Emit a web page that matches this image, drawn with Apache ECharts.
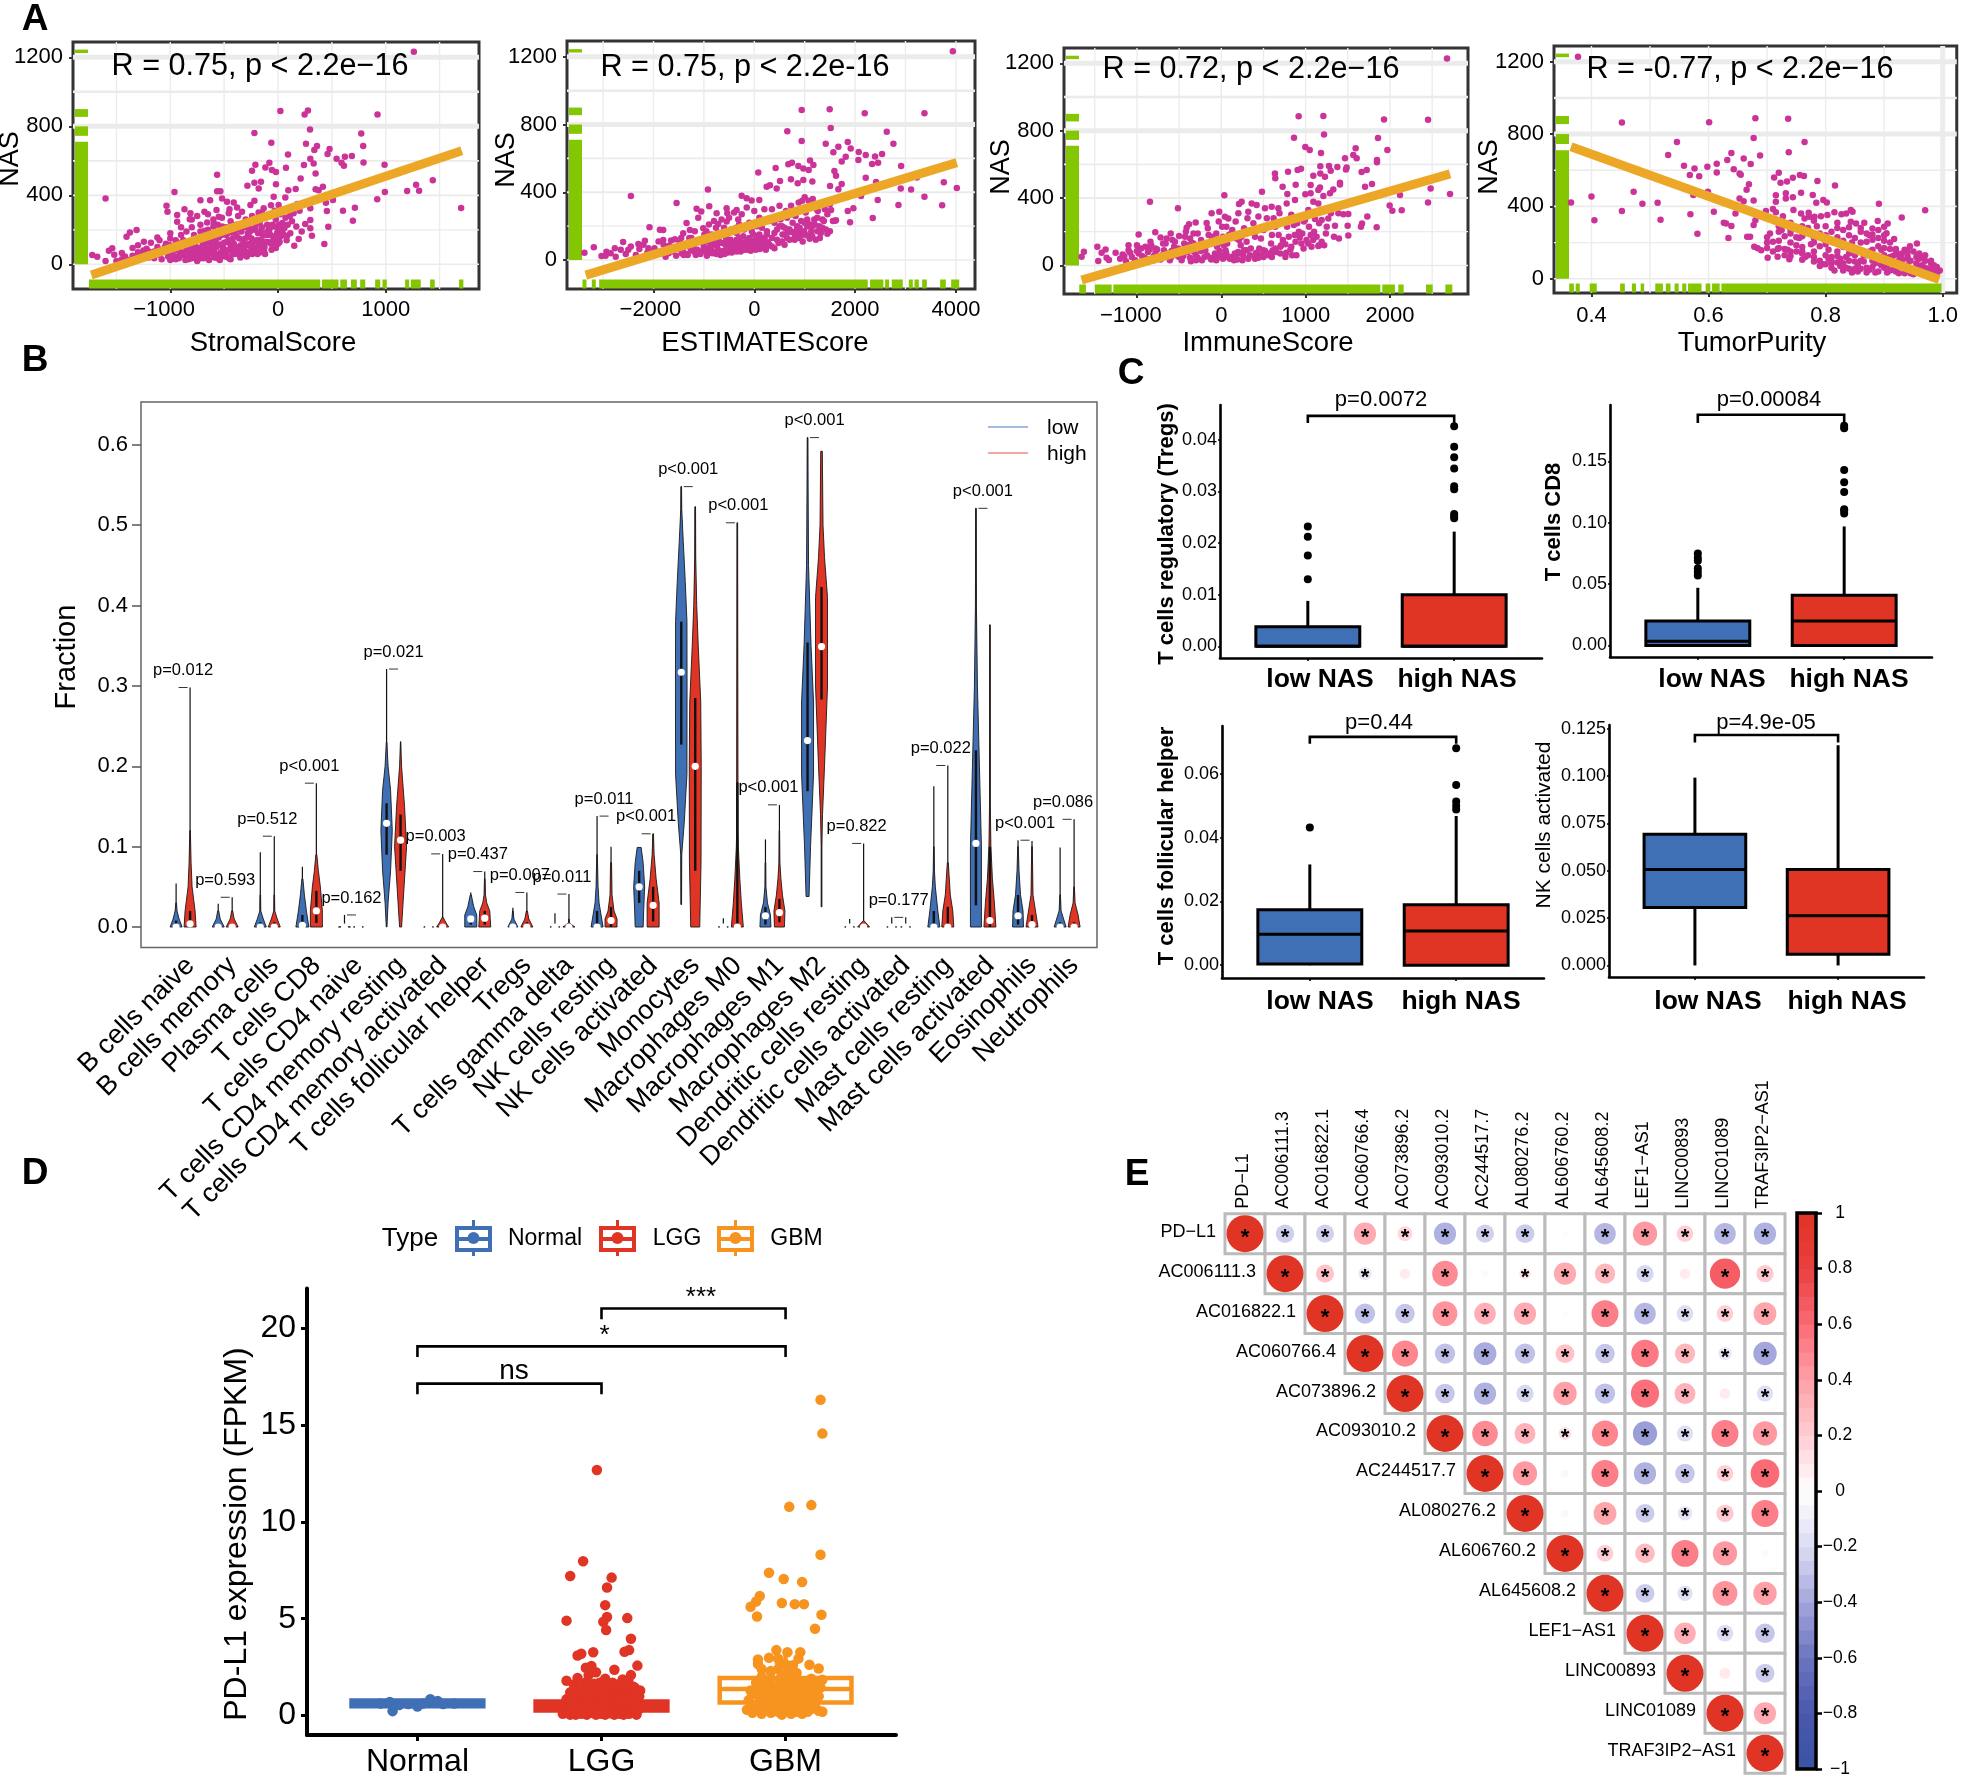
<!DOCTYPE html>
<html><head><meta charset="utf-8">
<style>html,body{margin:0;padding:0;background:#fff}#c{width:1961px;height:1778px}</style>
<script src="https://cdn.jsdelivr.net/npm/echarts@6/dist/echarts.min.js"></script>
</head><body><div id="c"></div>
<script>
// ---------- Panel A data: [score, NAS] pairs ----------
const nasRugSpans=[[0,710],[745,800],[855,900],[1225,1245]];
const stromalPts=[1261,1233,22,889,247,869,278,892,924,869,297,782,-219,761,773,759,-62,705,260,699,362,686,337,663,479,668,460,639,791,686,93,637,544,612,621,624,686,628,590,589,612,572,794,591,989,578,300,612,331,585,241,576,74,560,-80,589,-117,562,-210,578,-241,543,-56,547,-19,535,349,527,210,498,-565,520,-158,479,-219,473,-284,456,-179,440,-19,465,417,450,349,435,377,430,96,430,164,437,1437,487,1282,462,1310,427,1199,425,992,419,921,377,1700,326,714,328,603,311,695,253,510,373,445,357,454,309,467,218,430,118,-1601,381,-961,419,-720,371,-630,371,-565,423,-535,423,-1035,340,-1026,305,-868,319,-813,296,-936,286,-936,247,-819,261,-683,305,-571,315,-519,382,-473,363,-411,359,-256,344,-219,369,-40,392,68,388,-65,342,6,344,-133,325,-334,305,-457,296,-550,276,-658,242,-596,238,300,325,145,296,300,257,253,234,300,209,315,166,192,147,151,108,114,180,83,164,-1313,199,-1375,184,-1406,160,-1245,131,-1539,93,-1570,79,-1724,54,-1678,44,-1601,19,
-1500,20,-1450,30,-1420,45,-1380,25,-1350,50,-1320,35,-1300,70,-1280,30,-1250,55,-1220,90,-1200,40,-1180,60,-1150,35,-1120,100,-1100,55,-1080,30,-1060,75,-1040,120,-1020,45,-1000,25,-980,60,-960,95,-940,130,-920,35,-900,70,-880,140,-860,25,-840,50,-820,100,-800,35,-780,170,-770,75,-750,20,-730,55,-720,190,-700,110,-690,35,-670,80,-650,200,-640,25,-630,135,-610,60,-600,220,-590,40,-570,100,-560,160,-540,25,-530,70,-520,220,-500,125,-490,45,-470,180,-450,85,-440,30,-420,150,-400,60,-390,230,-370,100,-350,40,-340,190,-320,130,-300,75,-290,45,-270,160,-250,100,-240,60,-220,200,-200,140,-190,60,-170,240,-150,100,-140,165,-120,60,-100,230,-90,130,-70,170,-60,85,-40,220,-30,140,-10,180,0,120,10,230,20,160,40,190,60,210,80,140,-880,55,-850,85,-810,65,-790,130,-760,40,-710,85,-680,150,-660,55,-620,100,-580,130,-550,45,-510,95,-480,65,-460,140,-430,110,-380,75,-360,150,-330,55,-310,105,-280,180,-260,70,-230,130,-180,110,-160,190,-130,80,-110,130,-80,200,-50,130,-20,95,
-1000,70,-960,45,-930,80,-900,110,-870,60,-850,115,-830,30,-800,85,-770,110,-745,60,-720,35,-700,70,-680,105,-655,40,-635,75,-615,120,-600,150,-585,65,-560,35,-540,115,-525,170,-510,50,-495,85,-475,130,-455,35,-440,110,-420,60,-405,85,-385,165,-365,60,-345,110,-325,80,-305,150,-285,60,-265,120,-245,150,-225,70,-205,95,-185,180,-165,70,-145,130,-125,100,-105,170,-85,200,-65,120,-45,160,-25,100,-5,150,15,130,35,210,55,170,-650,130,-600,95,-550,155,-480,170,-430,185,-360,205,-300,215,-260,190,-210,215,-1100,85,-1150,75,-1200,75,-1050,100,-1250,80,-1300,50,-1000,110,-950,30,-910,55,-840,75,-780,45,-740,95,-690,125,-645,90,-590,115,-530,50,-470,45,-410,120,-355,85,-295,110,-235,100,-175,140,
-900,170,-850,190,-800,215,-760,150,-720,230,-680,195,-640,175,-600,260,-560,230,-520,270,-480,215,-440,250,-400,195,-370,280,-330,230,-300,260,-270,215,-240,280,-200,250,-180,300,-150,215,-120,270,-100,190,-70,280,-50,230,-20,260,0,200,20,290,40,240,70,270,90,230,110,280,130,250,170,220,200,310,220,190,-950,140,-1000,150,-1100,140,-1180,125,-1300,110,-1350,95,-1450,65,-1520,55,-1120,155,-1000,180,-900,215,-800,260,-750,280,-650,290,-450,320,-380,330,-150,300,-30,310,100,320,180,350];
const stromalTrend=[[-1733,-62],[1706,659]];
const stromalRug=[[-1755,392],[408,562],[578,640],[677,732],[763,810],[902,949],[970,1010],[1180,1217],[1233,1325],[1412,1455],[1681,1721]];

const estimatePts=[3939,1233,940,886,1496,890,2191,867,3376,867,655,760,1516,780,2628,758,940,703,1417,686,2760,686,1854,697,1668,668,1913,658,1569,636,2072,638,2211,620,2535,626,2396,611,1814,609,2065,591,1734,581,2337,567,2456,575,2913,555,1106,587,675,565,748,575,874,555,973,540,1079,532,1172,561,424,544,79,516,1589,526,1622,498,728,477,973,473,861,453,1152,463,510,467,245,433,311,441,444,422,2211,485,2416,461,1503,437,1734,449,1668,418,3760,459,4018,425,2906,422,3111,416,3224,487,3376,374,2449,355,2860,325,3727,323,2350,248,1966,305,1854,290,1900,223,1602,232,1523,296,2118,378,-920,416,-2449,378,-1542,337,-1145,303,-894,317,-1053,286,-1112,250,-1344,219,-2079,193,-1873,179,-1807,177,-251,380,-152,364,99,355,-53,351,-351,296,-549,305,-748,276,-536,276,-318,240,-549,227,-715,213,-1013,187,-1278,177,-1410,158,-1575,122,-1807,118,-2171,114,-2602,106,-2767,69,-2933,49,-3032,24,-3184,75,-3370,43,
300,90,350,130,400,70,450,180,480,100,520,240,560,150,600,90,630,290,660,180,700,120,730,320,760,220,790,160,820,260,850,130,880,340,900,190,930,230,960,110,990,170,1020,280,1050,145,1080,350,1110,210,1130,170,1160,320,1190,240,1220,120,1260,290,1290,200,1320,160,1350,240,1380,230,1420,180,1450,155,1500,170,1560,230,1620,235,950,350,1000,370,1160,360,1240,300,1200,210,
-2950,25,-2850,40,-2750,20,-2650,60,-2550,35,-2450,80,-2350,30,-2280,65,-2200,90,-2120,45,-2050,25,-1980,70,-1900,110,-1830,40,-1760,20,-1690,85,-1620,50,-1550,25,-1480,100,-1420,60,-1350,35,-1290,130,-1220,75,-1160,30,-1100,110,-1050,50,-990,150,-940,25,-880,80,-830,40,-770,130,-720,60,-670,30,-610,165,-570,90,-520,45,-470,120,-420,60,-360,190,-320,90,-270,50,-220,140,-170,70,-120,100,-70,55,-20,150,30,60,80,110,130,70,180,130,230,60,270,105,-600,55,-500,90,-400,70,-300,130,-200,60,-100,130,0,85,100,150,200,95,-1000,75,-900,45,-800,95,-700,110,-1200,50,-1400,30,-1700,40,-2000,45,
-1500,65,-1440,40,-1380,85,-1320,30,-1260,60,-1190,95,-1130,60,-1070,35,-1010,95,-960,55,-910,110,-850,60,-790,45,-740,85,-690,55,-640,100,-590,35,-545,70,-495,115,-445,45,-395,95,-345,50,-295,80,-245,105,-195,85,-145,60,-95,95,-45,80,5,115,55,85,105,65,155,100,205,130,255,85,-750,35,-650,45,-550,120,-450,75,-350,120,-250,70,-150,115,-50,110,50,140,150,120,250,150,350,80,450,120,550,110,650,130,750,165,850,180,950,150,1050,200,1150,140,1250,170,1350,190,1100,125,1000,220,900,130,800,120,700,165,600,190,500,200,400,220,
-1000,130,-950,170,-900,210,-850,150,-800,230,-760,190,-700,160,-650,240,-600,190,-560,130,-500,250,-450,180,-400,280,-350,160,-300,210,-250,270,-200,180,-150,310,-100,220,-50,170,0,290,50,200,100,250,150,190,200,300,250,170,300,230,350,300,400,160,450,250,500,320,550,200,600,150,650,250,700,180,750,270,800,130,850,200,900,160,1000,150,1050,240,1150,200,1250,250,1300,130,1400,300,1450,270,1500,330,-1300,100,-1250,130,-1180,170,-1450,130,-1650,115,-1800,90,-2100,70,-2300,95,-2500,60];
const estimateTrend=[[-3343,-89],[4018,575]];
const estimateRug=[[-3409,-3330],[-3224,-3145],[-3078,2250],[2297,2562],[2595,2674],[2727,2946],[3065,3145],[3178,3264],[3330,3423],[3687,3800],[3906,4065]];

const immunePts=[2676,1228,917,885,1210,887,1929,867,2451,865,1218,778,862,758,1858,756,996,703,1048,685,1969,685,1182,667,1593,695,1565,655,1467,636,1605,636,1846,626,1846,612,1174,588,1277,590,1376,584,1486,582,1478,570,1297,562,1174,546,1229,527,1091,533,1724,566,1664,554,636,546,640,517,791,556,905,566,945,574,727,467,882,479,1059,477,1407,491,1407,481,1704,467,1787,483,1170,463,1150,447,1328,451,1289,428,1210,412,783,424,996,422,1059,428,482,438,36,416,2119,418,2482,457,2712,424,2451,374,1996,356,2028,325,2139,327,1731,291,1668,249,1656,230,1842,226,1498,236,1348,236,1506,305,1447,303,1388,309,1506,178,1395,160,1336,170,-846,378,-514,339,-304,255,-383,244,-411,224,-174,251,-783,196,-980,184,-648,160,-115,309,-24,319,43,289,83,279,202,309,241,378,210,364,360,368,419,358,320,319,518,339,597,348,676,339,775,368,874,388,1091,378,1150,368,1032,329,992,269,1111,275,1190,269,1269,279,-1656,51,-1629,81,-1470,111,-1459,26,-1419,75,-1372,95,-1360,46,-1332,32,-1253,75,
-1200,40,-1170,65,-1130,25,-1100,90,-1060,50,-1020,30,-980,70,-950,100,-910,45,-870,80,-830,120,-800,55,-760,95,-720,35,-690,130,-650,70,-610,30,-580,150,-540,60,-510,100,-470,30,-430,170,-400,80,-360,25,-330,190,-300,60,-260,120,-230,30,-190,90,-160,220,-130,45,-90,150,-60,30,-20,85,10,230,40,50,70,130,100,40,130,210,160,70,190,35,230,120,260,60,290,190,320,40,350,100,380,250,410,70,440,45,470,160,500,90,530,230,560,60,590,130,620,280,650,80,680,180,710,120,740,260,770,75,800,170,830,110,860,240,890,60,920,200,950,130,980,260,1010,150,1040,230,1070,110,1100,200,1130,170,1160,250,1190,140,1220,120,1240,190,-800,30,-700,60,-600,45,-500,50,-400,120,-300,30,-200,50,-100,40,-50,110,0,60,50,90,150,30,200,80,250,30,300,90,400,40,500,50,600,50,700,70,-350,135,-450,95,-550,140,
-1150,55,-1080,75,-1000,85,-940,55,-890,40,-850,95,-780,75,-740,50,-680,90,-630,55,-590,85,-520,75,-450,55,-420,95,-370,45,-320,80,-280,45,-240,85,-170,60,-120,35,-75,70,-35,50,20,40,60,70,120,50,170,50,220,70,270,90,340,60,420,75,470,60,520,85,590,75,640,100,700,110,760,125,820,95,880,140,930,165,975,100,1030,130,1090,150,1150,115,840,60,760,50,610,90,450,100,300,140,240,170,180,160,90,180,30,120,-40,130,-110,170,
-900,110,-840,140,-780,100,-720,165,-660,130,-600,190,-560,110,-500,175,-440,130,-420,200,-370,160,-330,130,-280,190,-240,150,-200,120,-150,180,-110,130,-60,190,-30,260,20,170,60,230,120,190,170,260,210,150,270,220,310,280,360,200,400,170,440,290,500,210,540,280,600,180,640,230,690,310,730,150,780,230,830,300,870,180,900,250,960,190,1000,300,1060,180,1100,300,1160,120,1200,330,1250,230,1300,310,-1000,120,-1100,120];
const immuneTrend=[[-1656,-87],[2712,543]];
const immuneRug=[[-1684,-1605],[-1498,-1300],[-1280,1822],[1822,1885],[1909,2059],[2099,2162],[2427,2506],[2656,2739]];

const purityPts=[.377,1227,.68,888,.736,885,.452,864,.601,866,.677,778,.764,756,.546,756,.737,700,.688,682,.531,684,.639,695,.66,665,.632,656,.672,634,.558,625,.576,610,.598,619,.614,636,.643,606,.614,588,.568,573,.584,566,.653,582,.655,575,.72,586,.712,560,.756,573,.763,568,.744,558,.734,538,.723,531,.786,540,.816,516,.669,522,.665,492,.758,475,.778,463,.715,461,.732,472,.732,444,.744,450,.653,444,.66,429,.677,433,.715,426,.796,435,.802,422,.784,420,.891,415,.4,455,.365,422,.472,481,.487,415,.513,420,.452,374,.405,324,.518,326,.569,356,.609,370,.646,361,.599,481,.574,463,.626,310,.63,306,.639,291,.581,249,.634,225,.666,232,.671,232,.677,297,.68,324,.698,374,.71,385,.715,367,.727,346,.745,380,.758,361,.771,365,.764,333,.772,343,.781,343,.792,346,.803,352,.815,367,.827,356,.835,361,.843,380,.846,370,.97,378,.93,339,.906,306,.9,288,.889,319,.88,278,.866,310,.852,306,.843,315,.82,310,.904,251,.917,219,.956,195,.944,180,.678,177,.684,168,.69,158,.701,116,.718,122,.718,164,.738,107,
.7,230,.705,250,.71,205,.72,170,.725,270,.73,235,.735,160,.74,200,.745,290,.75,150,.755,225,.76,175,.765,120,.77,255,.775,190,.78,120,.785,290,.79,180,.795,80,.8,240,.805,110,.81,60,.815,200,.82,150,.825,70,.83,270,.835,120,.84,55,.845,200,.85,95,.855,40,.86,280,.865,130,.87,60,.875,240,.88,100,.885,35,.89,180,.895,75,.9,130,.905,35,.91,165,.915,90,.92,40,.925,130,.93,70,.935,30,.94,110,.945,55,.95,25,.955,120,.96,70,.965,35,.97,100,.975,50,.98,85,.985,40,.99,65,.995,45,.805,160,.81,120,.82,90,.83,45,.84,140,.85,55,.86,100,.87,35,.875,150,.885,85,.895,160,.905,75,.915,50,.925,100,.935,160,.945,30,.955,60,.965,120,.975,30,.985,75,.83,175,.85,170,.87,205,.89,225,.91,200,.93,140,.8,130,.79,100,.78,150,.77,130,.76,105,.75,185,.74,150,.73,165,
.81,85,.815,45,.825,110,.83,85,.835,60,.84,100,.845,35,.85,130,.855,75,.86,55,.865,95,.87,130,.875,50,.88,65,.885,120,.89,40,.895,105,.9,60,.905,100,.91,45,.915,125,.92,80,.925,30,.93,100,.935,55,.94,75,.945,100,.95,50,.955,85,.96,40,.965,75,.97,60,.98,60,.99,30,.84,175,.86,150,.88,160,.9,170,.92,165,.94,150,.96,140,.98,100,.82,125,.8,190,.78,200,.76,235,.74,250,.72,260,.7,200,
.72,210,.73,130,.74,270,.75,230,.76,150,.77,280,.78,225,.79,250,.8,210,.81,260,.82,230,.83,210,.84,240,.85,225,.86,200,.87,250,.88,215,.89,270,.9,210,.91,120,.92,150,.93,110,.94,125,.95,150,.96,110,.97,130,.72,290,.74,310,.76,290,.78,320,.8,290,.82,280,.84,285,.86,260,.88,245,.9,240,.74,125,.76,140,.78,95,.8,80,.79,70,.81,100,.7,170,.71,150];
const purityTrend=[[.365,730],[.994,-4]];
const purityRug=[[.362,.37],[.373,.38],[.397,.409],[.449,.457],[.469,.476],[.484,.49],[.509,.522],[.527,.535],[.542,.549],[.555,.562],[.565,.588],[.595,.603],[.606,.619],[.622,.998]];

// ---------- Panel B data ----------
const cellTypes=['B cells naive','B cells memory','Plasma cells','T cells CD8','T cells CD4 naive','T cells CD4 memory resting','T cells CD4 memory activated','T cells follicular helper','Tregs','T cells gamma delta','NK cells resting','NK cells activated','Monocytes','Macrophages M0','Macrophages M1','Macrophages M2','Dendritic cells resting','Dendritic cells activated','Mast cells resting','Mast cells activated','Eosinophils','Neutrophils'];
const fractionTicks=[0,.1,.2,.3,.4,.5,.6];
const pValues=['p=0.012','p=0.593','p=0.512','p<0.001','p=0.162','p=0.021','p=0.003','p=0.437','p=0.007','p=0.011','p=0.011','p<0.001','p<0.001','p<0.001','p<0.001','p<0.001','p=0.822','p=0.177','p=0.022','p<0.001','p<0.001','p=0.086'];
// each violin: [min, q1, median, q3, max, [value, density, value, density, ...]]
const violinLow=[
[0,0,0,.008,.054,[0,6,.01,3,.02,1,.03,.3]],
[0,0,0,.004,.029,[0,6,.01,2,.02,.5]],
[0,0,0,.006,.093,[0,6,.01,3,.02,.5,.04,.3]],
[0,0,.002,.015,.075,[0,6.5,.02,4,.04,2,.06,.5]],
[0,0,0,0,.015,[0,6,.001,.3]],
[0,.09,.129,.154,.321,[0,.3,.03,1.5,.07,4,.12,5.7,.17,4,.2,1.5,.23,.3]],
[0,0,0,0,.002,[0,5,.001,.3]],
[0,.003,.01,.015,.043,[0,6,.015,6,.025,3,.04,.5]],
[0,0,0,.003,.024,[0,5,.01,1,.02,.3]],
[0,0,0,0,.017,[0,5,.001,.3]],
[0,0,0,.02,.138,[0,6,.015,4,.03,2,.05,1,.09,.3]],
[0,.03,.05,.07,.099,[0,4,.02,4.5,.05,5.5,.08,4,.099,2]],
[.028,.227,.317,.38,.548,[.028,.3,.09,.5,.13,3,.19,5.7,.3,5.8,.38,5.7,.43,4,.48,2,.52,.5,.548,.3]],
[0,0,0,0,.011,[0,5,.001,.3]],
[0,.003,.014,.025,.109,[0,5.5,.015,5,.03,2,.05,.5,.08,.3]],
[.038,.169,.232,.354,.609,[.038,1.5,.1,3,.19,6,.28,6,.35,3.5,.45,1,.55,.5,.609,.3]],
[0,0,0,0,.01,[0,5,.001,.3]],
[0,0,0,0,.012,[0,5,.001,.3]],
[0,0,0,.02,.175,[0,6,.02,4,.05,1.5,.07,.6,.1,.3]],
[0,.027,.104,.22,.521,[0,5.5,.1,5.5,.2,3.5,.3,1.5,.4,.5,.521,.3]],
[0,.003,.014,.04,.108,[0,5.5,.02,5,.04,2.5,.07,1,.1,.3]],
[0,0,0,.006,.099,[0,6,.01,3.5,.02,1,.04,.3]]];
const violinHigh=[
[0,0,.004,.02,.298,[0,6,.02,5,.05,2,.08,1,.12,.3]],
[0,0,0,.004,.037,[0,6,.01,2,.02,.5]],
[0,0,0,.006,.113,[0,6,.01,3,.02,.5,.04,.3]],
[0,.005,.02,.045,.179,[0,6,.02,6,.05,4,.07,2,.09,.5]],
[0,0,0,0,.003,[0,5,.001,.3]],
[0,.07,.108,.14,.231,[0,1,.05,3.5,.1,6,.15,4,.2,1,.23,.1]],
[0,0,0,.002,.091,[0,6,.006,3,.012,.5]],
[0,.003,.011,.02,.069,[0,6,.02,5,.03,2,.04,.7,.06,.3]],
[0,0,0,.006,.043,[0,6,.01,2,.02,.5]],
[0,0,0,0,.041,[0,6,.005,.5,.01,.2]],
[0,0,.008,.025,.1,[0,6,.01,6,.02,3,.04,1,.08,.5]],
[0,.007,.027,.05,.116,[0,6,.03,6,.06,3,.09,1,.116,.3]],
[0,.07,.2,.285,.523,[0,4.5,.08,5.8,.2,6,.28,5.5,.35,3,.4,1.5,.46,.5,.523,.3]],
[0,0,0,.18,.503,[0,6,.03,4,.06,2.5,.1,1,.12,.7,.3,.5,.503,.3]],
[0,.006,.018,.035,.152,[0,5,.02,5.5,.04,3,.06,1.5,.08,.5,.12,.2]],
[.025,.283,.349,.423,.592,[.025,.3,.1,.3,.14,1,.2,3,.3,6,.41,6,.46,3,.5,1.5,.592,.8]],
[0,0,0,0,.104,[0,6,.008,.3]],
[0,0,0,0,.012,[0,5,.001,.3]],
[0,0,0,.025,.201,[0,6,.02,5,.04,2.5,.08,.5]],
[0,0,.008,.1,.376,[0,6,.03,4.5,.06,2.5,.1,1,.15,.4,.376,.3]],
[0,0,.003,.015,.107,[0,6,.02,3.5,.04,1,.1,.3]],
[0,0,0,.006,.134,[0,6,.015,4,.03,1,.05,.3]]];

// ---------- Panel C data: [lowerWhisker, q1, median, q3, upperWhisker] ----------
const tregsLow=[0,0,0,.0038,.0088], tregsHigh=[0,0,0,.01,.0222];
const tregsOutLow=[.013,.0176,.0212,.0232], tregsOutHigh=[.0248,.0252,.0256,.0304,.031,.0344,.0366,.0386,.0426];
const cd8Low=[0,0,.0034,.02,.047], cd8High=[0,0,.02,.041,.097];
const cd8OutLow=[.057,.06,.063,.069,.0715,.075], cd8OutHigh=[.1075,.11,.111,.125,.133,.143,.177,.179];
const tfhLow=[0,.0004,.0097,.0174,.0316], tfhHigh=[0,0,.0107,.019,.0468];
const tfhOutLow=[.0432], tfhOutHigh=[.0488,.05,.0513,.0565,.068];
const nkLow=[0,.0306,.0507,.0693,.0992], nkHigh=[0,.0059,.0262,.0507,.1163];
const nkOutLow=[], nkOutHigh=[];
const nasGroups=['low NAS','high NAS'];

// ---------- Panel D data: [jitter, FPKM] pairs ----------
const normalPts=[-.135,.23,-.1,.55,-.05,.6,0,.47,.03,.62,.07,.85,.11,.76,.14,.6,-.2,.62,.2,.62,-.15,.7];
const lggPts=[-.025,12.67,-.1,7.96,-.17,7.2,.055,7.12,.03,6.61,.02,5.7,-.19,4.9,.03,5.09,.01,4.84,.14,5.03,.025,4.42,.16,3.97,.15,3.38,.125,3.29,-.045,3.27,-.11,3.19,-.13,3.1,.195,2.58,-.055,2.56,-.085,2.47,.07,2.37,-.03,2.24,-.07,2.09,.16,2.09,-.19,1.8,-.13,1.94,.02,1.9,.115,1.86,.145,1.8,
-.21,.1,-.19,.3,-.17,.05,-.2,.6,-.18,.9,-.15,.2,-.16,.5,-.14,.05,-.17,1.2,-.13,.8,-.12,.3,-.14,1.4,-.11,.1,-.1,.6,-.12,1,-.09,1.6,-.08,.05,-.07,.4,-.09,.85,-.06,1.2,-.05,.15,-.04,.6,-.06,1.5,-.03,.05,-.02,.35,-.03,.9,-.01,1.3,0,.1,.01,.55,-.01,1.7,.02,.05,.03,.3,.02,.95,.04,1.45,.05,.12,.06,.6,.05,1.15,.07,.05,.08,.35,.07,.8,.09,1.6,.1,.1,.11,.5,.1,1.05,.12,.05,.13,.3,.12,1.35,.14,.7,.15,.1,.16,.45,.15,1,.17,.2,.17,1.5,.18,.6,.19,.05,.2,.3,.19,.9,.21,1.3,.2,.65,
-.19,.85,-.165,.75,-.145,1.1,-.125,1.25,-.105,.95,-.085,1.2,-.075,1.4,-.065,.8,-.045,1.05,-.035,1.3,-.025,1.55,-.005,.85,.005,1.1,.015,1.45,.025,.7,.035,1.2,.045,.85,.055,1.4,.065,.95,.075,1.3,.085,1.05,.095,1.35,.105,.8,.115,1.2,.125,.9,.135,1.1,.145,1.35,.155,.75,.165,1.15,.175,.95,.185,1.2,.205,1,-.15,1.6,-.11,1.45,-.08,1.75,-.04,1.65,.03,1.65,.06,1.7,.12,1.6,.15,1.55,.18,1.45];
const gbmPts=[.19,16.29,.2,14.55,.14,10.86,.02,10.77,.19,8.3,-.09,7.37,-.01,7.05,.09,6.89,-.14,6.17,-.16,5.89,-.19,5.62,-.02,5.81,.05,5.75,.1,5.75,-.155,5.11,.195,5.2,.16,4.48,-.05,3.38,.01,3.27,.08,3.27,-.09,2.98,-.15,2.9,-.15,2.66,-.04,2.94,.07,2.94,.13,2.62,.18,2.43,-.08,2.28,.02,2.37,
-.21,.3,-.2,.8,-.19,1.3,-.18,.15,-.17,.55,-.18,1.1,-.16,1.7,-.15,.3,-.14,.9,-.15,1.4,-.13,.1,-.12,.6,-.13,2,-.11,1.2,-.1,.35,-.09,.8,-.1,1.6,-.08,.15,-.07,1.1,-.08,2.3,-.06,.5,-.05,1.5,-.04,.2,-.05,.9,-.03,1.9,-.02,.05,-.02,1.2,-.01,.6,0,1.6,.01,.25,.01,2.1,.02,.9,.03,.1,.03,1.35,.04,.55,.05,1.8,.06,.2,.06,1.05,.07,.6,.08,1.5,.09,.1,.09,.85,.1,.4,.11,1.25,.12,.2,.13,.75,.12,1.55,.14,.35,.15,1.1,.16,.6,.16,1.7,.18,.25,.18,1,.19,1.45,.2,.2,.2,1.85,-.13,2.4,.04,2.6,-.03,2.7,
-.06,1,-.04,1.25,-.01,1.05,.02,1.4,.04,1.1,-.07,.65,-.03,.4,.02,.55,.05,.8,.08,1.1,.1,.95,-.11,1.75,-.08,1.9,-.02,2.1,.03,1.9,.06,2.2,.1,1.75,.14,1.9,-.04,2.4,.01,2.6];
const normalBox=[.48,.48,.63,.78,.78], lggBox=[.27,.27,.45,.73,1.4], gbmBox=[.68,.68,1.37,1.94,3.2];
const tumorTypes=['Normal','LGG','GBM'];
const fpkmTicks=[0,5,10,15,20];

// ---------- Panel E data: upper triangle, each row starts right after the diagonal ----------
const genes=['PD−L1','AC006111.3','AC016822.1','AC060766.4','AC073896.2','AC093010.2','AC244517.7','AL080276.2','AL606760.2','AL645608.2','LEF1−AS1','LINC00893','LINC01089','TRAF3IP2−AS1'];
const corrRows=[
[-.25,-.24,.36,.16,-.36,-.24,-.26,.02,-.34,.43,.2,-.34,-.36],
[.24,-.13,.08,.48,.03,.1,.36,.3,-.22,.08,.67,.22],
[-.3,-.28,.45,.34,.36,.02,.53,-.34,-.2,.2,.38],
[.5,-.3,-.38,-.3,.26,-.28,.55,.3,-.13,-.4],
[-.28,-.36,-.22,.4,-.3,.58,.32,.08,-.19],
[.48,.32,.12,.5,-.43,-.19,.53,.43],
[.43,-.04,.53,-.36,-.28,.2,.6],
[-.04,.38,-.26,-.15,.22,.53],
[.2,.28,.53,.43,.03],
[-.26,-.17,.45,.4],
[.34,-.2,-.28],
[.09,-.26],
[.36],
[]];
const corrStops=[[-1,[57,83,164]],[-.8,[74,88,173]],[-.6,[107,116,191]],[-.4,[164,166,220]],[-.2,[220,220,243]],[0,[255,255,255]],[.2,[255,205,211]],[.4,[255,160,168]],[.6,[251,107,118]],[.8,[233,63,64]],[1,[224,52,36]]];

// ---------- Drawing ----------
const FONT="'Liberation Sans', Arial, sans-serif";
const BLUE='#3f6fb5',RED='#e03424',ORANGE='#f79420';
const grids=[],xAxes=[],yAxes=[],series=[],graphic=[];
const pairs=f=>{const o=[];for(let i=0;i<f.length;i+=2)o.push([f[i],f[i+1]]);return o;};
const minus=s=>String(s).replace('-','−');
function addGrid(l,t,w,h,x,y,extra){
  grids.push(Object.assign({left:l,top:t,width:w,height:h,containLabel:false},extra||{}));
  const i=grids.length-1;
  xAxes.push(Object.assign({type:'value',gridIndex:i,splitLine:{show:false}},x));
  yAxes.push(Object.assign({type:'value',gridIndex:i,splitLine:{show:false}},y));
  return i;
}
function custom(i,items,draw,z){
  series.push({type:'custom',coordinateSystem:'cartesian2d',xAxisIndex:i,yAxisIndex:i,silent:true,z:z||2,clip:false,
    data:items.map((_,k)=>[k,0]),encode:{x:0,y:1},
    renderItem:(p,api)=>draw(items[p.dataIndex],v=>api.coord(v))});
}
function gText(text,x,y,size,opt){
  opt=opt||{};
  graphic.push({type:'text',x,y,z:100,rotation:opt.rot||0,silent:true,style:{text,fill:opt.fill||'#000',
    font:(opt.bold?'bold ':'')+size+'px '+FONT,align:opt.align||'center',verticalAlign:'middle'}});
}
const vline=(x,y0,y1,w,c)=>({type:'line',shape:{x1:x,y1:y0,x2:x,y2:y1},style:{stroke:c,lineWidth:w}});
const hline=(x0,x1,y,w,c)=>({type:'line',shape:{x1:x0,y1:y,x2:x1,y2:y},style:{stroke:c,lineWidth:w}});
const noLine={show:false,onZero:false};

// Panel A
const bandsY=[[1200,5],[1000,2.5],[800,5],[600,1.6],[400,1.8],[200,1.2],[0,1.5]];
const panelA=[
 {l:73,t:42,w:406,h:247,x:[-1903,1866],y:[-143,1289],xt:[-1000,0,1000],gx:[-1500,-1000,-500,0,500,1000,1500],pts:stromalPts,tr:stromalTrend,rug:stromalRug,name:'StromalScore',nx:273,ny:343,tx:310,r:'R = 0.75, p < 2.2e−16',rx:260,ry:67,ax:11,ay:159,pad:'\u00a0\u00a0'},
 {l:567,t:41,w:408,h:248,x:[-3716,4379],y:[-171,1293],xt:[-2000,0,2000,4000],gx:[-3000,-2000,-1000,0,1000,2000,3000,4000],pts:estimatePts,tr:estimateTrend,rug:estimateRug,name:'ESTIMATEScore',nx:765,ny:343,tx:310,r:'R = 0.75, p < 2.2e-16',rx:745,ry:68,ax:507,ay:160,pad:'\u00a0'},
 {l:1064,t:48,w:404,h:246,x:[-1865,2925],y:[-170,1291],xt:[-1000,0,1000,2000],gx:[-1500,-1000,-500,0,500,1000,1500,2000,2500],pts:immunePts,tr:immuneTrend,rug:immuneRug,name:'ImmuneScore',nx:1268,ny:343,tx:316,r:'R = 0.72, p < 2.2e−16',rx:1251,ry:70,ax:1002,ay:167,pad:'\u00a0\u00a0'},
 {l:1554,t:46,w:404,h:247,x:[.336,1.024],y:[-79,1287],xt:[.4,.6,.8,1],gx:[.4,.5,.6,.7,.8,.9,1],pts:purityPts,tr:purityTrend,rug:purityRug,name:'TumorPurity',nx:1752,ny:343,tx:316,r:'R = -0.77, p < 2.2e−16',rx:1740,ry:70,ax:1490,ay:167,pad:''}];
panelA.forEach((a,n)=>{
  const tick={show:true,length:4,lineStyle:{color:'#333',width:2},inside:false};
  const i=addGrid(a.l,a.t,a.w,a.h,
    {min:a.x[0],max:a.x[1],axisLine:noLine,axisTick:Object.assign({customValues:a.xt},tick),
     axisLabel:{customValues:a.xt,margin:a.tx-a.t-a.h-11,fontSize:22,color:'#000',fontFamily:FONT,verticalAlign:'top',
       formatter:v=>n==3?v.toFixed(1):(v<0?minus(Math.round(v))+a.pad:String(Math.round(v)))}},
    {min:a.y[0],max:a.y[1],axisLine:noLine,axisTick:Object.assign({customValues:[0,400,800,1200]},tick),
     axisLabel:{customValues:[0,400,800,1200],margin:10,fontSize:22,color:'#000',fontFamily:FONT,formatter:v=>String(Math.round(v))}},
    {show:true,borderColor:'#333',borderWidth:3,backgroundColor:'#fff',z:0});
  custom(i,a.gx,(v,c)=>{const p=c([v,a.y[0]]),q=c([v,a.y[1]]);return vline(p[0],p[1],q[1],(n==3&&v==1)?5:1.4,'#ececec');},1);
  custom(i,bandsY,(b,c)=>{const p=c([a.x[0],b[0]]),q=c([a.x[1],b[0]]);return hline(p[0],q[0],p[1],b[1],'#ebebeb');},1);
  custom(i,nasRugSpans,(s,c)=>{const p=c([a.x[0],s[0]]),q=c([a.x[0],s[1]]);return {type:'rect',shape:{x:p[0]+2,y:q[1],width:13,height:p[1]-q[1]},style:{fill:'#84c600'}};},2);
  custom(i,a.rug,(s,c)=>{const p=c([s[0],a.y[0]]),q=c([s[1],a.y[0]]);return {type:'rect',shape:{x:p[0],y:p[1]-9.5,width:q[0]-p[0],height:9},style:{fill:'#84c600'}};},2);
  series.push({type:'scatter',xAxisIndex:i,yAxisIndex:i,data:pairs(a.pts),symbolSize:6.5,itemStyle:{color:'#cc3399',opacity:1},z:3,silent:true});
  series.push({type:'line',xAxisIndex:i,yAxisIndex:i,data:a.tr,showSymbol:false,lineStyle:{color:'#eda726',width:9},z:4,silent:true});
  gText(a.name,a.nx,a.ny,27.5);
  gText(a.r,a.rx,a.ry,30.6);
  gText('NAS',a.ax,a.ay,27,{rot:Math.PI/2});
});

// Panel B
const bg=addGrid(141,402,956,545.5,
  {min:-1,max:21.71,axisLine:noLine,axisTick:{show:false},
   axisLabel:{customValues:cellTypes.map((_,k)=>k+.17),rotate:45,margin:14,fontSize:27,color:'#000',fontFamily:FONT,formatter:v=>cellTypes[Math.round(v-.17)]||''}},
  {min:-.0255,max:.6533,axisLine:noLine,axisTick:{customValues:fractionTicks,length:9,lineStyle:{color:'#555',width:1.5}},
   axisLabel:{customValues:fractionTicks,margin:13,fontSize:22,color:'#000',fontFamily:FONT,padding:[5,0,0,0],formatter:v=>v.toFixed(1)}},
  {show:true,borderColor:'#666',borderWidth:1.5,backgroundColor:'#fff',z:0});
function drawViolin(v,cx,c,col){
  const pts=pairs(v[5]);const L=[],R=[];
  pts.forEach(p=>{const y=c([cx,p[0]]);L.push([y[0]-p[1],y[1]]);R.unshift([y[0]+p[1],y[1]]);});
  const xp=c([cx,0])[0],top=c([cx,v[4]])[1],bot=c([cx,v[0]])[1],q1=c([cx,v[1]])[1],q3=c([cx,v[3]])[1],m=c([cx,v[2]])[1];
  return {type:'group',children:[
    vline(xp,bot,top,1.2,'#111'),
    {type:'polygon',shape:{points:L.concat(R)},style:{fill:col,stroke:'#1a1a1a',lineWidth:.9}},
    vline(xp,q1,q3,2.4,'#111'),
    {type:'circle',shape:{cx:xp,cy:m,r:3.6},style:{fill:'#fff'}}]};
}
const groupIdx=cellTypes.map((_,k)=>k);
custom(bg,groupIdx,(k,c)=>drawViolin(violinLow[k],k-.166,c,BLUE),2);
custom(bg,groupIdx,(k,c)=>drawViolin(violinHigh[k],k+.166,c,RED),2);
const pShift={13:8,14:-4,21:-4};
custom(bg,groupIdx,(k,c)=>{
  const top=Math.max(violinLow[k][4],violinHigh[k][4]);const p=c([k,top]);
  return {type:'group',children:[hline(p[0]-4.5,p[0]+4.5,p[1],1,'#333'),
    {type:'text',x:p[0]+(pShift[k]||0),y:p[1]-17,style:{text:pValues[k],font:'16.5px '+FONT,fill:'#000',align:'center',verticalAlign:'middle'}}]};
},3);
gText('Fraction',67,657,29,{rot:Math.PI/2});
graphic.push({type:'line',z:100,shape:{x1:988,y1:427,x2:1028,y2:427},style:{stroke:'#4a76bd',lineWidth:1.2},silent:true});
graphic.push({type:'line',z:100,shape:{x1:988,y1:453,x2:1028,y2:453},style:{stroke:'#f08a80',lineWidth:1.6},silent:true});
gText('low',1047,428,21,{align:'left'});
gText('high',1047,454,21,{align:'left'});

// Panel C
const panelC=[
 {l:1220,t:405,w:322,h:253,y:[-.00225,.0467],t_:[0,.01,.02,.03,.04],d:2,lo:tregsLow,hi:tregsHigh,ol:tregsOutLow,oh:tregsOutHigh,br:.0446,tip:.0014,p:'p=0.0072',px:1381,py:400,lab:[1320,1457],ly:680,name:'T cells regulatory (Tregs)',nx:1167,ny:534,bold:true},
 {l:1610,t:405,w:322,h:252,y:[-.0094,.196],t_:[0,.05,.1,.15],d:2,lo:cd8Low,hi:cd8High,ol:cd8OutLow,oh:cd8OutHigh,br:.188,tip:.0067,p:'p=0.00084',px:1769,py:400,lab:[1712,1849],ly:680,name:'T cells CD8',nx:1554,ny:522,bold:true},
 {l:1222,t:726,w:322,h:252,y:[-.004,.075],t_:[0,.02,.04,.06],d:2,lo:tfhLow,hi:tfhHigh,ol:tfhOutLow,oh:tfhOutHigh,br:.0716,tip:.0022,p:'p=0.44',px:1379,py:723,lab:[1320,1461],ly:1002,name:'T cells follicular helper',nx:1167,ny:846,bold:true},
 {l:1609,t:725,w:315,h:252,y:[-.0061,.127],t_:[0,.025,.05,.075,.1,.125],d:3,lo:nkLow,hi:nkHigh,ol:nkOutLow,oh:nkOutHigh,br:.1217,tip:.004,p:'p=4.9e-05',px:1766,py:723,lab:[1708,1847],ly:1002,name:'NK cells activated',nx:1544,ny:825,bold:false}];
function drawBox(x,b,c,fill,stroke,lw,hw){
  const xp=c([x,0])[0],dx=c([x+hw,0])[0]-xp,y=k=>c([x,b[k]])[1];
  return {type:'group',children:[
    vline(xp,y(0),y(1),lw,stroke),vline(xp,y(3),y(4),lw,stroke),
    {type:'rect',shape:{x:xp-dx,y:y(3),width:2*dx,height:y(1)-y(3)},style:{fill:fill,stroke:stroke,lineWidth:lw}},
    hline(xp-dx,xp+dx,y(2),lw,stroke)]};
}
function bracket(i,x0,x1,v,tip){
  custom(i,[0],(_,c)=>{const a=c([x0,v]),b=c([x1,v]),d=c([x1,v-tip]);
    return {type:'polyline',shape:{points:[[a[0],d[1]],a,b,[b[0],d[1]]]},style:{stroke:'#000',lineWidth:2.6,fill:null}};},4);
}
panelC.forEach(a=>{
  const i=addGrid(a.l,a.t,a.w,a.h,
   {min:.4,max:2.6,axisLine:{show:true,onZero:false,lineStyle:{color:'#000',width:2.6}},axisTick:{customValues:[1,2],length:3,lineStyle:{color:'#000',width:1.6}},axisLabel:{show:false}},
   {min:a.y[0],max:a.y[1],axisLine:{show:true,onZero:false,lineStyle:{color:'#000',width:2.6}},axisTick:{customValues:a.t_,length:2,lineStyle:{color:'#000',width:1.6}},
    axisLabel:{customValues:a.t_,margin:3,fontSize:18,color:'#000',fontFamily:FONT,formatter:v=>v.toFixed(a.d)}});
  custom(i,[[1,a.lo,BLUE],[2,a.hi,RED]],(b,c)=>drawBox(b[0],b[1],c,b[2],'#000',3,.355),3);
  const out=a.ol.map(v=>[1,v]).concat(a.oh.map(v=>[2,v]));
  series.push({type:'scatter',xAxisIndex:i,yAxisIndex:i,data:out,symbolSize:8,itemStyle:{color:'#000',opacity:1},z:3,silent:true});
  bracket(i,1,2,a.br,a.tip);
  gText(a.p,a.px,a.py,22);
  gText(nasGroups[0],a.lab[0],a.ly,26.5,{bold:true});
  gText(nasGroups[1],a.lab[1],a.ly,26.5,{bold:true});
  gText(a.name,a.nx,a.ny,a.bold?22:21,{rot:Math.PI/2,bold:a.bold});
});

// Panel D
const dg=addGrid(307,1288.6,589,447.4,
  {min:.4,max:3.6,axisLine:{show:true,onZero:false,lineStyle:{color:'#000',width:4}},axisTick:{customValues:[1,2,3],length:6,lineStyle:{color:'#000',width:3}},
   axisLabel:{customValues:[1,2,3],margin:11,fontSize:32,color:'#000',fontFamily:FONT,formatter:v=>tumorTypes[v-1]||''}},
  {min:-1,max:22.03,axisLine:{show:true,onZero:false,lineStyle:{color:'#000',width:4}},axisTick:{customValues:fpkmTicks,length:6,lineStyle:{color:'#000',width:3}},
   axisLabel:{customValues:fpkmTicks,margin:11,fontSize:32,color:'#000',fontFamily:FONT}});
[[1,normalBox,normalPts,BLUE,BLUE],[2,lggBox,lggPts,RED,RED],[3,gbmBox,gbmPts,ORANGE,'none']].forEach(g=>{
  custom(dg,[g],(b,c)=>drawBox(b[0],b[1],c,b[4],b[3],4.5,.358),2);
  series.push({type:'scatter',xAxisIndex:dg,yAxisIndex:dg,data:pairs(g[2]).map(p=>[g[0]+p[0],p[1]]),symbolSize:10.5,itemStyle:{color:g[3],opacity:1},z:3,silent:true});
});
bracket(dg,1,2,17.13,.55);
bracket(dg,1,3,19.05,.55);
bracket(dg,2,3,21,.55);
gText('ns',514,1371,28);
gText('*',604.6,1336,26);
gText('***',701,1298,26);
gText('PD-L1 expression (FPKM)',237,1534,32,{rot:Math.PI/2});
gText('Type',410,1239,26);
[[457,BLUE,'Normal',545],[601,RED,'LGG',677],[719,ORANGE,'GBM',796.5]].forEach(k=>{
  const x=k[0],col=k[1];
  graphic.push({type:'line',z:100,shape:{x1:x+16.5,y1:1220,x2:x+16.5,y2:1256},style:{stroke:col,lineWidth:3},silent:true});
  graphic.push({type:'rect',z:100,shape:{x:x,y:1228,width:33,height:22},style:{fill:'#fff',stroke:col,lineWidth:4},silent:true});
  graphic.push({type:'line',z:100,shape:{x1:x,y1:1239,x2:x+33,y2:1239},style:{stroke:col,lineWidth:4},silent:true});
  graphic.push({type:'circle',z:100,shape:{cx:x+16.5,cy:1238,r:6},style:{fill:col},silent:true});
  gText(k[2],k[3],1239,23);
});

// Panel E
function corrColor(r){
  for(let i=1;i<corrStops.length;i++){
    if(r<=corrStops[i][0]){const a=corrStops[i-1],b=corrStops[i],t=(r-a[0])/(b[0]-a[0]);
      return 'rgb('+a[1].map((v,k)=>Math.round(v+(b[1][k]-v)*t)).join(',')+')';}
  }
  return 'rgb(224,52,36)';
}
const eg=addGrid(1225,1213.7,560,559.5,
  {position:'top',min:-.5,max:13.5,axisLine:noLine,axisTick:{show:false},axisLabel:{show:false}},
  {min:-.5,max:13.5,inverse:true,axisLine:noLine,axisTick:{show:false},axisLabel:{show:false}});
const corrCells=[];
corrRows.forEach((row,i)=>{corrCells.push([i,i,1]);row.forEach((r,k)=>corrCells.push([i+1+k,i,r]));});
custom(eg,corrCells,(d,c)=>{const a=c([d[0]-.5,d[1]-.5]),b=c([d[0]+.5,d[1]+.5]);
  return {type:'rect',shape:{x:a[0],y:a[1],width:b[0]-a[0],height:b[1]-a[1]},style:{fill:'#fff',stroke:'#bbbbbb',lineWidth:3}};},1);
custom(eg,corrCells,(d,c)=>{const p=c([d[0],d[1]]),R=18.5*Math.sqrt(Math.abs(d[2]));
  const ch=[{type:'circle',shape:{cx:p[0],cy:p[1],r:R},style:{fill:corrColor(d[2])}}];
  if(Math.abs(d[2])>=.1)ch.push({type:'text',x:p[0],y:p[1]+4,style:{text:'*',font:'bold 22px '+FONT,fill:'#000',align:'center',verticalAlign:'middle'}});
  return {type:'group',children:ch};},3);
custom(eg,genes,(g,c)=>{const i=genes.indexOf(g),p=c([i-.5,i]),q=c([i,-.5]);
  return {type:'group',children:[
    {type:'text',x:p[0]-9,y:p[1]-2,style:{text:g,font:'18px '+FONT,fill:'#000',align:'right',verticalAlign:'middle'}},
    {type:'text',x:q[0]-2,y:q[1]-5,rotation:Math.PI/2,style:{text:g,font:'18px '+FONT,fill:'#000',align:'left',verticalAlign:'middle'}}]};},3);
// colour bar
const barLevels=[];for(let k=0;k<40;k++)barLevels.push(-1+k*.05);
const cb=addGrid(1797,1213,19,560,{min:0,max:1,show:false},
  {position:'right',min:-1,max:1,interval:.2,axisLine:noLine,axisTick:{length:6,lineStyle:{color:'#000',width:2.5}},
   axisLabel:{margin:24,align:'center',fontSize:17.5,color:'#000',fontFamily:FONT,formatter:v=>minus(Math.abs(v)<1e-9?0:(Math.abs(v)==1?v:v.toFixed(1)))}},
  {show:true,borderColor:'#000',borderWidth:3.5,z:5});
custom(cb,barLevels,(v,c)=>{const a=c([0,v+.05]),b=c([1,v]);
  return {type:'rect',shape:{x:a[0],y:a[1]-.5,width:b[0]-a[0],height:b[1]-a[1]+1},style:{fill:corrColor(v+.025)}};},1);

// Panel letters
[['A',35,20],['B',35,361],['C',1131,374],['D',35,1174],['E',1137,1175]].forEach(l=>gText(l[0],l[1],l[2],37,{bold:true}));

const chart=echarts.init(document.getElementById('c'),null,{renderer:'canvas'});
chart.setOption({animation:false,backgroundColor:'#fff',textStyle:{fontFamily:FONT},grid:grids,xAxis:xAxes,yAxis:yAxes,series,graphic:{elements:graphic}});
</script></body></html>
